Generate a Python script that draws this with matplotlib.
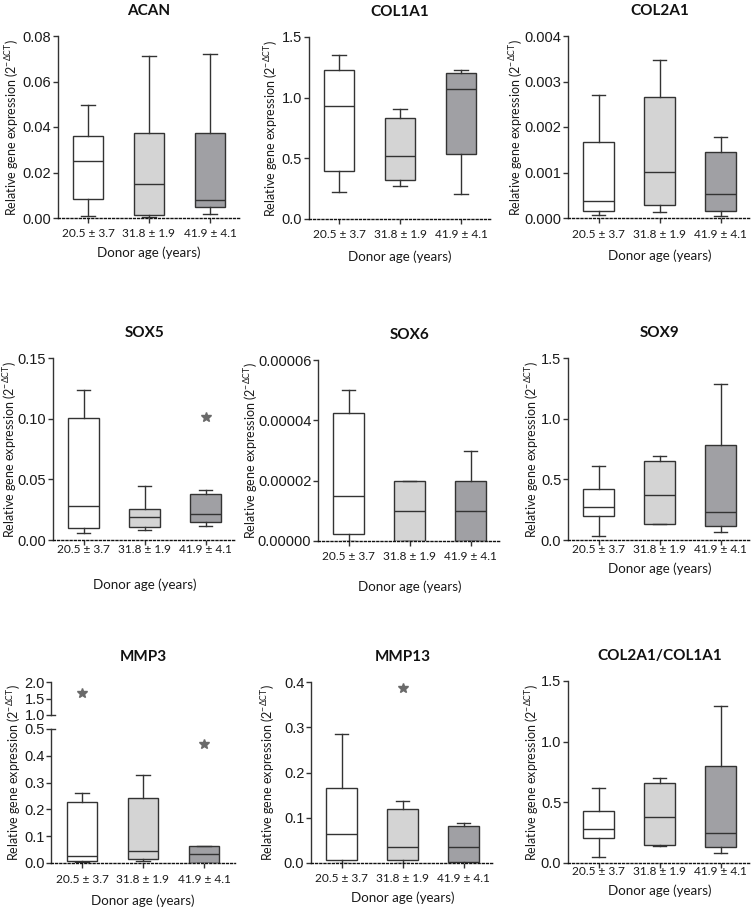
import matplotlib
matplotlib.use('Agg')
import matplotlib.pyplot as plt
from matplotlib.ticker import FormatStrFormatter

plt.rcParams['lines.scale_dashes'] = False

W, H = 753, 911
EDGE = '#333333'
BOX_COLORS = ['#ffffff', '#d4d4d4', '#a0a0a4']
TEXT_FONT = ['Lato', 'DejaVu Sans']
TICK_FONT = ['Liberation Sans', 'DejaVu Sans']

age_groups = ['20.5 ± 3.7', '31.8 ± 1.9', '41.9 ± 4.1']
ylabel_text = 'Relative gene expression (2$^{\\mathregular{-ΔCT}}$)'

# box stats per age group: [whislo, q1, med, q3, whishi]
acan = [[0.0007, 0.0085, 0.0251, 0.0361, 0.0496],
        [0.0004, 0.0015, 0.0150, 0.0372, 0.0711],
        [0.0018, 0.0047, 0.0077, 0.0375, 0.0720]]
acan_out = [[], [], []]
acan_ticks = [0.0, 0.02, 0.04, 0.06, 0.08]

col1a1 = [[0.222, 0.393, 0.929, 1.231, 1.354],
          [0.272, 0.321, 0.522, 0.835, 0.904],
          [0.209, 0.538, 1.074, 1.200, 1.231]]
col1a1_out = [[], [], []]
col1a1_ticks = [0.0, 0.5, 1.0, 1.5]

col2a1 = [[0.000073, 0.000161, 0.000365, 0.001664, 0.00270],
          [0.000124, 0.000277, 0.001015, 0.002650, 0.00347],
          [0.000051, 0.000153, 0.000518, 0.001445, 0.00177]]
col2a1_out = [[], [], []]
col2a1_ticks = [0.0, 0.001, 0.002, 0.003, 0.004]

sox5 = [[0.0058, 0.0096, 0.0281, 0.1006, 0.1234],
        [0.0080, 0.0110, 0.0187, 0.0259, 0.0449],
        [0.0118, 0.0152, 0.0215, 0.0380, 0.0408]]
sox5_out = [[], [], [0.1014]]
sox5_ticks = [0.0, 0.05, 0.10, 0.15]

sox6 = [[0.0, 0.0000023, 0.0000149, 0.0000425, 0.0000501],
        [0.0, 0.0, 0.00001, 0.00002, 0.00002],
        [0.0, 0.0, 0.00001, 0.00002, 0.00003]]
sox6_out = [[], [], []]
sox6_ticks = [0.0, 0.00002, 0.00004, 0.00006]

sox9 = [[0.036, 0.195, 0.270, 0.424, 0.614],
        [0.129, 0.132, 0.374, 0.650, 0.696],
        [0.069, 0.116, 0.234, 0.787, 1.285]]
sox9_out = [[], [], []]
sox9_ticks = [0.0, 0.5, 1.0, 1.5]

mmp3 = [[0.004, 0.0074, 0.0248, 0.2258, 0.2605],
        [0.0074, 0.0149, 0.0447, 0.2444, 0.3288],
        [0.0, 0.001, 0.0347, 0.0620, 0.0645]]
mmp3_out = [[1.68], [], [0.444]]
mmp3_ticks = [0.0, 0.1, 0.2, 0.3, 0.4, 0.5]
mmp3_ticks_top = [1.0, 1.5, 2.0]

mmp13 = [[0.001, 0.0073, 0.0639, 0.165, 0.286],
         [0.0, 0.0073, 0.0345, 0.119, 0.138],
         [0.001, 0.003, 0.0345, 0.0815, 0.0873]]
mmp13_out = [[], [0.3875], []]
mmp13_ticks = [0.0, 0.1, 0.2, 0.3, 0.4]

ratio = [[0.047, 0.208, 0.279, 0.432, 0.621],
         [0.142, 0.145, 0.383, 0.660, 0.704],
         [0.082, 0.129, 0.244, 0.799, 1.292]]
ratio_out = [[], [], []]
ratio_ticks = [0.0, 0.5, 1.0, 1.5]

# title, stats, outliers, ticks, format, layout px: left, top, bottom, tick_d, xlab_d, ylab_d
panels = [
    ('ACAN', acan, acan_out, acan_ticks, '%.2f', (57.5, 36, 218, 16, 35, 45)),
    ('COL1A1', col1a1, col1a1_out, col1a1_ticks, '%.1f', (308.5, 37, 219, 16, 38, 37)),
    ('COL2A1', col2a1, col2a1_out, col2a1_ticks, '%.3f', (568, 36, 218, 17, 38, 52)),
    ('SOX5', sox5, sox5_out, sox5_ticks, '%.2f', (53, 358, 540, 10, 45, 43)),
    ('SOX6', sox6, sox6_out, sox6_ticks, '%.5f', (318, 360, 541, 16, 46, 67)),
    ('SOX9', sox9, sox9_out, sox9_ticks, '%.1f', (568, 358, 540, 10, 29, 36)),
    ('MMP3', mmp3, mmp3_out, mmp3_ticks, '%.1f', (51.5, 729, 863, 17, 38, 37)),
    ('MMP13', mmp13, mmp13_out, mmp13_ticks, '%.1f', (311, 682, 863, 16, 35, 43)),
    ('COL2A1/COL1A1', ratio, ratio_out, ratio_ticks, '%.1f', (568, 681, 863, 9, 28, 36)),
]

AX_W = 183
TICK_LEN = 5  # px


def px_axes(fig, left, top, bottom):
    return fig.add_axes([left / W, (H - bottom) / H, AX_W / W, (bottom - top) / H])


def draw_boxes(ax, stats, outliers):
    data = []
    for (lo, q1, med, q3, hi), fl in zip(stats, outliers):
        data.append(dict(whislo=lo, q1=q1, med=med, q3=q3, whishi=hi, fliers=fl))
    line = dict(color=EDGE, linewidth=1.0)
    res = ax.bxp(data, positions=[1, 2, 3], widths=0.5, capwidths=0.22,
                 patch_artist=True, showfliers=True,
                 boxprops=dict(edgecolor=EDGE, linewidth=1.0),
                 whiskerprops=line, capprops=line,
                 medianprops=dict(color=EDGE, linewidth=1.0),
                 flierprops=dict(marker='*', markerfacecolor='#6a6a6a',
                                 markeredgecolor='#6a6a6a', markersize=7))
    for patch, c in zip(res['boxes'], BOX_COLORS):
        patch.set_facecolor(c)


def style_y(ax, ticks, fmt):
    ax.set_yticks(ticks)
    ax.yaxis.set_major_formatter(FormatStrFormatter(fmt))
    ax.set_ylim(ticks[0], ticks[-1])
    ax.spines['left'].set_color(EDGE)
    ax.spines['left'].set_linewidth(1.0)
    ax.spines['top'].set_visible(False)
    ax.spines['right'].set_visible(False)
    ax.tick_params(axis='y', length=TICK_LEN * 0.72, width=1.0, color=EDGE,
                   pad=1.2, labelsize=10.5, labelcolor='#1a1a1a')
    for t in ax.get_yticklabels():
        t.set_family(TICK_FONT)


fig = plt.figure(figsize=(W / 100, H / 100), dpi=100)

for title, stats, outliers, ticks, fmt, (left, top, bottom, tick_d, xlab_d, ylab_d) in panels:
    ax = px_axes(fig, left, top, bottom)
    draw_boxes(ax, stats, outliers)
    style_y(ax, ticks, fmt)
    ax.set_xlim(0.5, 3.5)
    ax.set_xticks([1, 2, 3])
    ax.set_xticklabels(age_groups, family=TEXT_FONT, fontsize=8.6, color='#1a1a1a')
    ax.spines['bottom'].set_color('#111111')
    ax.spines['bottom'].set_linewidth(1.0)
    ax.spines['bottom'].set_linestyle((0, (1.4, 1.6)))
    pad_px = tick_d - TICK_LEN - 6
    ax.tick_params(axis='x', length=TICK_LEN * 0.72, width=1.0, color=EDGE, pad=pad_px * 0.72)

    axh = bottom - top
    ax.set_xlabel('Donor age (years)', family=TEXT_FONT, fontsize=9.6, color='#1a1a1a', va='center')
    ax.xaxis.set_label_coords(0.5, -xlab_d / axh)

    title_top = top
    ylab_center = 0.5
    if title == 'MMP3':
        # broken axis: upper segment 1.0 - 2.0
        top_ax = px_axes(fig, left, 682, 715)
        draw_boxes(top_ax, stats, outliers)
        style_y(top_ax, mmp3_ticks_top, '%.1f')
        top_ax.set_xlim(0.5, 3.5)
        top_ax.set_xticks([])
        top_ax.spines['bottom'].set_visible(False)
        top_ax.plot([0, 0.02], [0, 0], color=EDGE, lw=1.0, clip_on=False,
                    transform=top_ax.transAxes)
        ax.plot([0, 0.02], [1, 1], color=EDGE, lw=1.0, clip_on=False,
                transform=ax.transAxes)
        title_top = 682
        ylab_center = (bottom - 772) / axh

    ax.set_ylabel(ylabel_text, family=TEXT_FONT, fontsize=9, color='#1a1a1a', va='center')
    ax.yaxis.set_label_coords(-ylab_d / AX_W, ylab_center)

    fig.text((left + AX_W / 2) / W, (H - title_top + 25) / H, title, family=TEXT_FONT,
             fontsize=11, fontweight='bold', ha='center', va='center', color='#111111')

fig.savefig('out.png', dpi=100)
